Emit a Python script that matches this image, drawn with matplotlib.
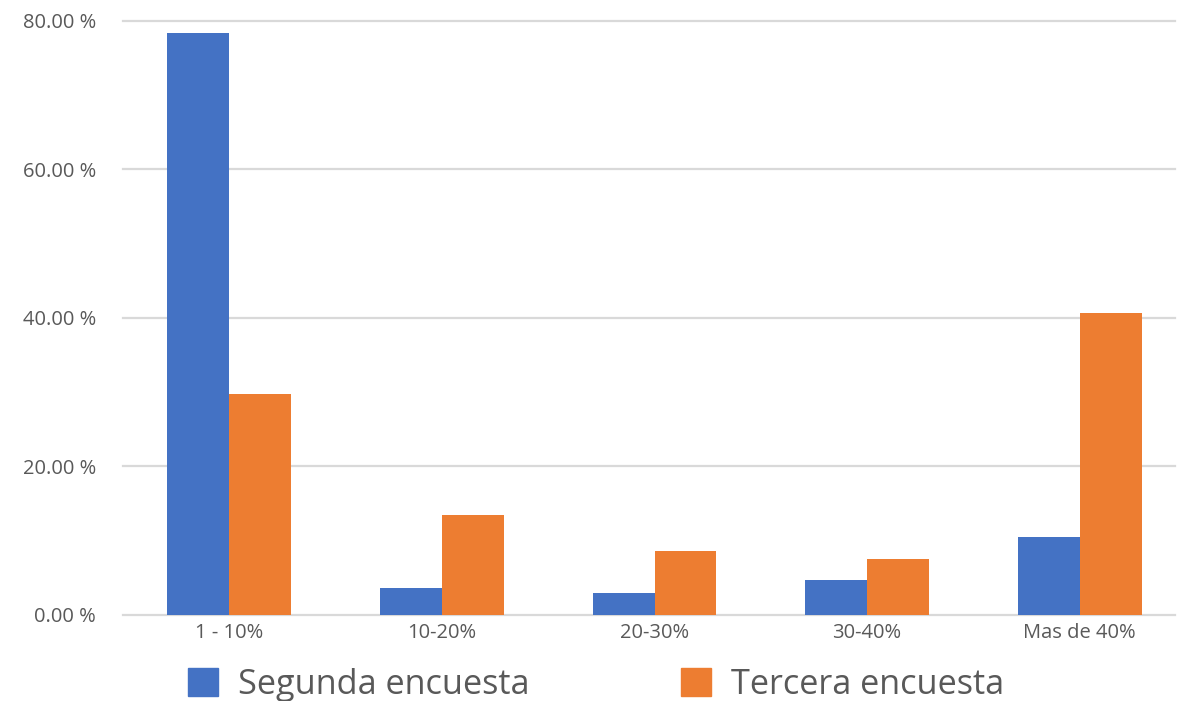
import matplotlib
matplotlib.use("Agg")
import matplotlib.pyplot as plt
import numpy as np
from matplotlib.ticker import FuncFormatter
from matplotlib.patches import Patch

categories = ["1 - 10%", "10-20%", "20-30%", "30-40%", "Mas de 40%"]
segunda = [78.3, 3.65, 2.9, 4.75, 10.45]
tercera = [29.8, 13.4, 8.65, 7.6, 40.6]
series_names = ["Segunda encuesta", "Tercera encuesta"]
yticks = [0, 20, 40, 60, 80]

plt.rcParams['font.family'] = ['Open Sans', 'DejaVu Sans']

W, H = 1186, 701
fig = plt.figure(figsize=(W / 100, H / 100), dpi=100)
left_px, right_px, top_px, bot_px = 123, 1186, 20.7, 615
ax = fig.add_axes([left_px / W, 1 - bot_px / H, (right_px - left_px) / W, (bot_px - top_px) / H])

x = np.arange(len(categories))
w = 0.2916
c1, c2 = "#4472C4", "#ED7D31"
ax.bar(x - w/2, segunda, w, color=c1, zorder=3)
ax.bar(x + w/2, tercera, w, color=c2, zorder=3)

ax.set_xlim(-0.5, len(categories) - 0.5)
ax.set_ylim(0, 80)
ax.set_yticks(yticks)
ax.yaxis.set_major_formatter(FuncFormatter(lambda v, p: f"{v:.2f} %"))
ax.set_xticks(x)
ax.set_xticklabels(categories)
grid_end = (1175 - left_px) / (right_px - left_px)
for yv in yticks:
    ax.axhline(yv, xmin=0, xmax=grid_end, color='#d9d9d9', linewidth=1.6, zorder=0, clip_on=False)
for s in ax.spines.values():
    s.set_visible(False)
ax.tick_params(axis='both', length=0, labelsize=14.5, colors='#595959')
ax.tick_params(axis='y', pad=19.5)
ax.tick_params(axis='x', pad=6)

handles = [Patch(color=c1), Patch(color=c2)]
leg = fig.legend(handles, series_names, loc='center', bbox_to_anchor=(0.5025, 0.023),
                 ncol=2, frameon=False, fontsize=24.7, handlelength=0.875, handleheight=0.875,
                 handletextpad=0.6, columnspacing=4.4, labelcolor='#595959',
                 borderaxespad=0, borderpad=0)

fig.savefig("out.png", dpi=100)
